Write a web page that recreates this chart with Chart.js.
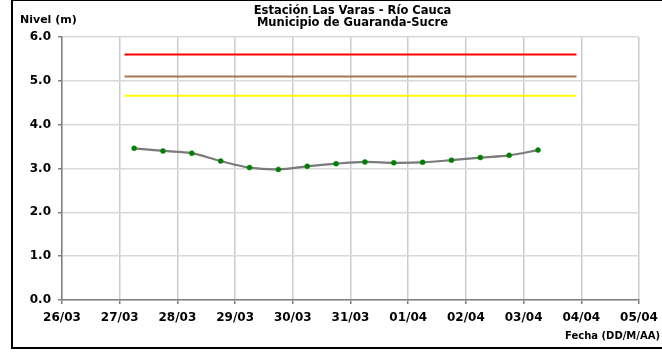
<!DOCTYPE html>
<html>
<head>
<meta charset="utf-8">
<script src="https://cdn.jsdelivr.net/npm/chart.js@4.4.1/dist/chart.umd.min.js"></script>
<style>
  html, body { margin: 0; padding: 0; background: #fff; overflow: hidden; }
  #wrap { position: relative; width: 662px; height: 361px; }
  #marco { position: absolute; left: 11px; top: -1px; width: 700px; height: 346px; border: 2px solid #000; pointer-events: none; }
</style>
</head>
<body>
<div id="wrap">
  <canvas id="nivel-chart" width="662" height="361"></canvas>
  <div id="marco"></div>
</div>
<script>
// fechas del eje x (un tick por día)
const fechasEje = ["26/03", "27/03", "28/03", "29/03", "30/03", "31/03", "01/04", "02/04", "03/04", "04/04", "05/04"];
const nivelTicks = [0, 1, 2, 3, 4, 5, 6];

// lecturas de nivel cada 12 horas
const lecturas = ["27/03 06:00", "27/03 18:00", "28/03 06:00", "28/03 18:00", "29/03 06:00",
  "29/03 18:00", "30/03 06:00", "30/03 18:00", "31/03 06:00", "31/03 18:00",
  "01/04 06:00", "01/04 18:00", "02/04 06:00", "02/04 18:00", "03/04 06:00"];
const niveles = [3.46, 3.40, 3.35, 3.17, 3.02, 2.98, 3.05, 3.11, 3.15, 3.13, 3.14, 3.19, 3.25, 3.30, 3.42];

// cotas de alerta
const alertaPeriodo = ["27/03 02:00", "03/04 22:00"];
const alertaRoja = [5.6, 5.6];
const alertaNaranja = [5.1, 5.1];
const alertaAmarilla = [4.66, 4.66];

// "DD/MM HH:MM" -> días desde 26/03 00:00
function aDias(s) {
  const [fecha, hora] = s.split(" ");
  const idx = fechasEje.indexOf(fecha);
  const [h, m] = hora.split(":").map(Number);
  return idx + (h + m / 60) / 24;
}

function serie(tiempos, valores) {
  return valores.map((v, i) => ({ x: aDias(tiempos[i]), y: v }));
}

function cota(valores, color) {
  return {
    data: serie(alertaPeriodo, valores),
    borderColor: color,
    borderWidth: 2,
    pointRadius: 0,
    tension: 0,
  };
}

const textos = {
  id: "textos",
  afterDraw(chart) {
    const { ctx, chartArea } = chart;
    ctx.save();
    ctx.fillStyle = "#000";
    ctx.textBaseline = "middle";
    ctx.font = "bold 11.5px 'DejaVu Sans'";
    ctx.textAlign = "center";
    const cx = (chartArea.left + chartArea.right) / 2 + 2;
    ctx.fillText("Estación Las Varas - Río Cauca", cx, 11);
    ctx.fillText("Municipio de Guaranda-Sucre", cx, 23);
    ctx.font = "bold 11px 'DejaVu Sans'";
    ctx.textAlign = "left";
    ctx.fillText("Nivel (m)", 20, 20);
    ctx.font = "bold 10px 'DejaVu Sans'";
    ctx.textAlign = "right";
    ctx.fillText("Fecha (DD/M/AA)", 660, 336);
    ctx.restore();
  },
};

new Chart("nivel-chart", {
  type: "line",
  data: {
    datasets: [
      cota(alertaRoja, "#ff0000"),
      cota(alertaNaranja, "#a8774f"),
      cota(alertaAmarilla, "#ffff00"),
      {
        data: serie(lecturas, niveles),
        borderColor: "#7a7a7a",
        borderWidth: 2.2,
        tension: 0.35,
        pointRadius: 2.5,
        pointBackgroundColor: "#008000",
        pointBorderColor: "#008000",
        pointBorderWidth: 0.5,
      },
    ],
  },
  options: {
    responsive: false,
    animation: false,
    layout: { padding: { left: 0, right: 23, top: 37, bottom: 0 } },
    plugins: { legend: { display: false }, tooltip: { enabled: false } },
    scales: {
      x: {
        type: "linear",
        min: 0,
        max: fechasEje.length - 1,
        afterBuildTicks(scale) {
          scale.ticks = fechasEje.map((_, i) => ({ value: i }));
        },
        afterFit(scale) {
          scale.height = 61;
          scale.paddingLeft = 0;
          scale.paddingRight = 0;
        },
        grid: { color: "#cccccc", lineWidth: 1.5, tickColor: "#808080", tickLength: 4 },
        border: { color: "#808080", width: 1.5 },
        ticks: {
          color: "#000",
          font: { family: "'DejaVu Sans'", size: 12, weight: "bold" },
          padding: 7,
          maxRotation: 0,
          autoSkip: false,
          callback: (v) => fechasEje[v],
        },
      },
      y: {
        min: 0,
        max: 6,
        afterBuildTicks(scale) {
          scale.ticks = nivelTicks.map((v) => ({ value: v }));
        },
        afterFit(scale) { scale.width = 62; },
        grid: { color: "#d9d9d9", lineWidth: 1.5, tickColor: "#808080", tickLength: 4 },
        border: { color: "#808080", width: 1.5 },
        ticks: {
          color: "#000",
          font: { family: "'DejaVu Sans'", size: 12, weight: "bold" },
          padding: 7,
          callback: (v) => v.toFixed(1),
        },
      },
    },
  },
  plugins: [textos],
});
</script>
</body>
</html>
